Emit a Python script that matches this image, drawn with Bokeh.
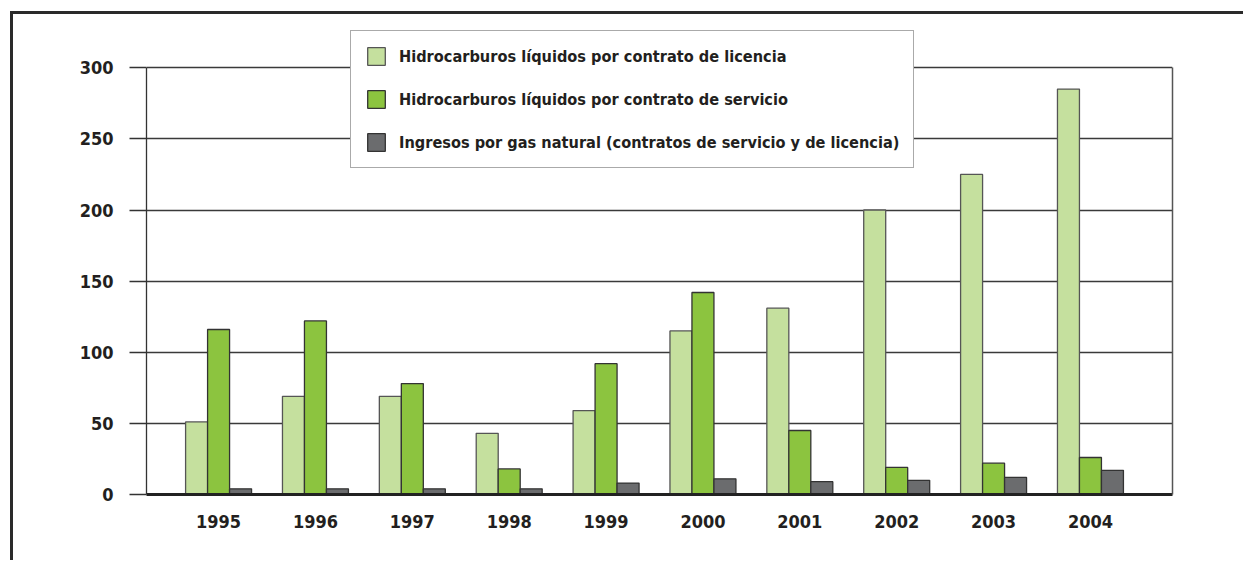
from bokeh.plotting import figure
from bokeh.models import ColumnDataSource, FixedTicker, Legend, LegendItem, LinearAxis
from bokeh.transform import dodge
from bokeh.embed import file_html
from bokeh.resources import INLINE

years = [1995, 1996, 1997, 1998, 1999, 2000, 2001, 2002, 2003, 2004]
licencia = [51, 69, 69, 43, 59, 115, 131, 200, 225, 285]
servicio = [116, 122, 78, 18, 92, 142, 45, 19, 22, 26]
gas = [4, 4, 4, 4, 8, 11, 9, 10, 12, 17]
labels = ["Hidrocarburos líquidos por contrato de licencia",
          "Hidrocarburos líquidos por contrato de servicio",
          "Ingresos por gas natural (contratos de servicio y de licencia)"]
colors = ["#c5e09e", "#8cc43f", "#6b6c6e"]
y_ticks = [0, 50, 100, 150, 200, 250, 300]

FONT = "DejaVu Sans Condensed"
TXT = "#231f20"

src = ColumnDataSource(dict(year=years, lic=licencia, ser=servicio, gas=gas))

p = figure(width=1233, height=549, output_backend="svg", toolbar_location=None,
           x_range=(1994.256, 2004.847), y_range=(0, 327.6),
           min_border_left=133, min_border_right=74, min_border_top=14,
           min_border_bottom=69)
p.styles = {"margin-left": "10px", "margin-top": "11px",
            "border-left": "3px solid #2a2a2a", "border-top": "3px solid #2a2a2a"}

w = 0.227
r1 = p.vbar(x=dodge("year", -w, range=p.x_range), top="lic", width=w, source=src,
            fill_color=colors[0], line_color="#555555", line_width=1.3)
r2 = p.vbar(x="year", top="ser", width=w, source=src,
            fill_color=colors[1], line_color="#333333", line_width=1.3)
r3 = p.vbar(x=dodge("year", w, range=p.x_range), top="gas", width=w, source=src,
            fill_color=colors[2], line_color="#333333", line_width=1.3)

p.xaxis.ticker = FixedTicker(ticks=years)
p.xaxis.major_tick_line_color = None
p.xaxis.minor_tick_line_color = None
p.xaxis.axis_line_width = 3
p.xaxis.axis_line_color = "#222222"
p.xaxis.major_label_standoff = 14
p.xaxis.major_label_text_font = FONT
p.xaxis.major_label_text_font_size = "18px"
p.xaxis.major_label_text_font_style = "bold"
p.xaxis.major_label_text_color = TXT

p.yaxis.ticker = FixedTicker(ticks=y_ticks)
p.yaxis.bounds = (0, 300)
p.yaxis.minor_tick_line_color = None
p.yaxis.major_tick_out = 17
p.yaxis.major_tick_in = 0
p.yaxis.major_tick_line_color = "#333333"
p.yaxis.major_tick_line_width = 1.3
p.yaxis.axis_line_color = "#333333"
p.yaxis.axis_line_width = 1.3
p.yaxis.major_label_standoff = 16
p.yaxis.major_label_text_font = FONT
p.yaxis.major_label_text_font_size = "18px"
p.yaxis.major_label_text_font_style = "bold"
p.yaxis.major_label_text_color = TXT

right = LinearAxis(bounds=(0, 300), ticker=FixedTicker(ticks=[]),
                   major_tick_line_color=None, minor_tick_line_color=None,
                   major_label_text_font_size="0px",
                   axis_line_color="#555555", axis_line_width=1.5)
p.add_layout(right, "right")

p.xgrid.grid_line_color = None
p.ygrid.grid_line_color = "#3a3a3a"
p.ygrid.grid_line_width = 1.3

p.outline_line_color = None
p.background_fill_color = "white"
p.border_fill_color = "white"

legend = Legend(items=[LegendItem(label=labels[0], renderers=[r1]),
                       LegendItem(label=labels[1], renderers=[r2]),
                       LegendItem(label=labels[2], renderers=[r3])],
                location=(204, 326))
legend.label_text_font = FONT
legend.label_text_font_size = "16.2px"
legend.label_text_font_style = "bold"
legend.label_text_color = TXT
legend.glyph_width = 22
legend.glyph_height = 22
legend.label_height = 22
legend.spacing = 21
legend.padding = 14
legend.margin = 0
legend.label_standoff = 12
legend.border_line_color = "#555555"
legend.border_line_width = 1.5
legend.background_fill_alpha = 1.0
p.add_layout(legend, "center")

open("out.html", "w").write(file_html(p, INLINE))
